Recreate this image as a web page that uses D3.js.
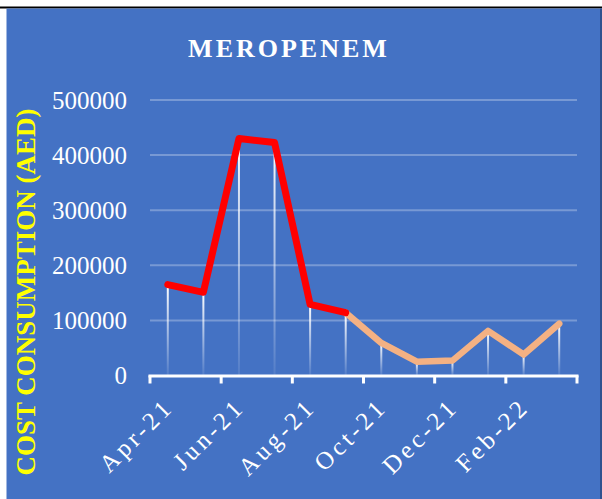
<!DOCTYPE html>
<html>
<head>
<meta charset="utf-8">
<script src="https://cdn.jsdelivr.net/npm/d3@7"></script>
<style>
body { margin: 0; background: #fff; }
text { font-family: "Liberation Serif", "Times New Roman", serif; }
</style>
</head>
<body>
<div id="chart"></div>
<script>
var WIDTH = 602, HEIGHT = 499;

// data
const months = ["Apr-21","May-21","Jun-21","Jul-21","Aug-21","Sep-21","Oct-21","Nov-21","Dec-21","Jan-22","Feb-22","Mar-22"];
const cost = [165000,151000,430000,423000,129000,114000,59000,25000,27000,81000,38000,94000];
const yTicks = [0,100000,200000,300000,400000,500000];
const redEnd = 5; // Apr-21 .. Sep-21 in red, rest in peach

var LEFT = 150, RIGHT = 577, TOP = 100, BOTTOM = 375.5;

const svg = d3.select("#chart").append("svg").attr("width", WIDTH).attr("height", HEIGHT)

// frame
svg.append("rect").attr("x",0).attr("y",6.5).attr("width",WIDTH).attr("height",2).attr("fill","#000")
svg.append("rect").attr("x",6.5).attr("y",8.5).attr("width",WIDTH-6.5).attr("height",HEIGHT-8.5).attr("fill","#4472C4")
svg.append("rect").attr("x",600).attr("y",8.5).attr("width",2).attr("height",HEIGHT-8.5).attr("fill","#2F528F")

const defs = svg.append("defs")
const grad = defs.append("linearGradient").attr("id","drop").attr("x1",0).attr("y1",0).attr("x2",0).attr("y2",1)
grad.append("stop").attr("offset","0%").attr("stop-color","#fff").attr("stop-opacity",1)
grad.append("stop").attr("offset","100%").attr("stop-color","#fff").attr("stop-opacity",0.08)

// scales
const x = d3.scaleBand().domain(months).range([LEFT, RIGHT]).padding(0)
const y = d3.scaleLinear().domain([0,500000]).range([BOTTOM, TOP])
const cx = d => x(d) + x.bandwidth()/2

// title
svg.append("text").attr("x",289).attr("y",57).attr("text-anchor","middle")
  .attr("fill","#fff").attr("font-weight","bold").attr("font-size",26).attr("letter-spacing",3)
  .text("MEROPENEM")

// y axis title
svg.append("text").attr("transform","translate(35,292) rotate(-90)").attr("text-anchor","middle")
  .attr("fill","#FFFF00").attr("font-weight","bold").attr("font-size",27)
  .text("COST CONSUMPTION (AED)")

// gridlines
svg.append("g").selectAll("line").data(yTicks.filter(t => t > 0)).enter().append("line")
  .attr("x1",LEFT).attr("x2",RIGHT).attr("y1",d => y(d)).attr("y2",d => y(d))
  .attr("stroke","#fff").attr("stroke-opacity",0.28).attr("stroke-width",2)

// y tick labels
svg.append("g").selectAll("text").data(yTicks).enter().append("text")
  .attr("x",127).attr("y",d => y(d)).attr("dy","0.35em").attr("text-anchor","end")
  .attr("fill","#fff").attr("font-size",25).text(d => d)

// drop lines
svg.append("g").selectAll("rect").data(months).enter().append("rect")
  .attr("x",d => cx(d) - 1).attr("width",2)
  .attr("y",(d,i) => y(cost[i])).attr("height",(d,i) => BOTTOM - y(cost[i]))
  .attr("fill","url(#drop)")

// x axis
const tickPos = months.filter((d,i) => i % 2 == 0).map(d => x(d)).concat([RIGHT])
const ax = svg.append("g")
ax.append("line").attr("x1",LEFT-1.5).attr("x2",RIGHT+1.5).attr("y1",BOTTOM+0.5).attr("y2",BOTTOM+0.5)
  .attr("stroke","#fff").attr("stroke-width",3)
ax.selectAll(".tk").data(tickPos).enter().append("line").attr("class","tk")
  .attr("x1",d => d).attr("x2",d => d).attr("y1",BOTTOM).attr("y2",BOTTOM+8)
  .attr("stroke","#fff").attr("stroke-width",3)
ax.selectAll("text").data(months.filter((d,i) => i % 2 == 0)).enter().append("text")
  .attr("transform",d => "translate(" + (cx(d) + 7) + "," + (BOTTOM + 33) + ") rotate(-45)")
  .attr("text-anchor","end").attr("fill","#fff").attr("font-size",25).attr("letter-spacing",3.5)
  .text(d => d)

// lines
const line = d3.line().x(d => cx(d.m)).y(d => y(d.v))
const pts = months.map((m,i) => ({m: m, v: cost[i]}))
svg.append("path").datum(pts.slice(redEnd)).attr("d",line).attr("fill","none")
  .attr("stroke","#F4B183").attr("stroke-width",6.5).attr("stroke-linejoin","round").attr("stroke-linecap","round")
svg.append("path").datum(pts.slice(0, redEnd + 1)).attr("d",line).attr("fill","none")
  .attr("stroke","#FF0000").attr("stroke-width",7).attr("stroke-linejoin","round").attr("stroke-linecap","round")
</script>
</body>
</html>
